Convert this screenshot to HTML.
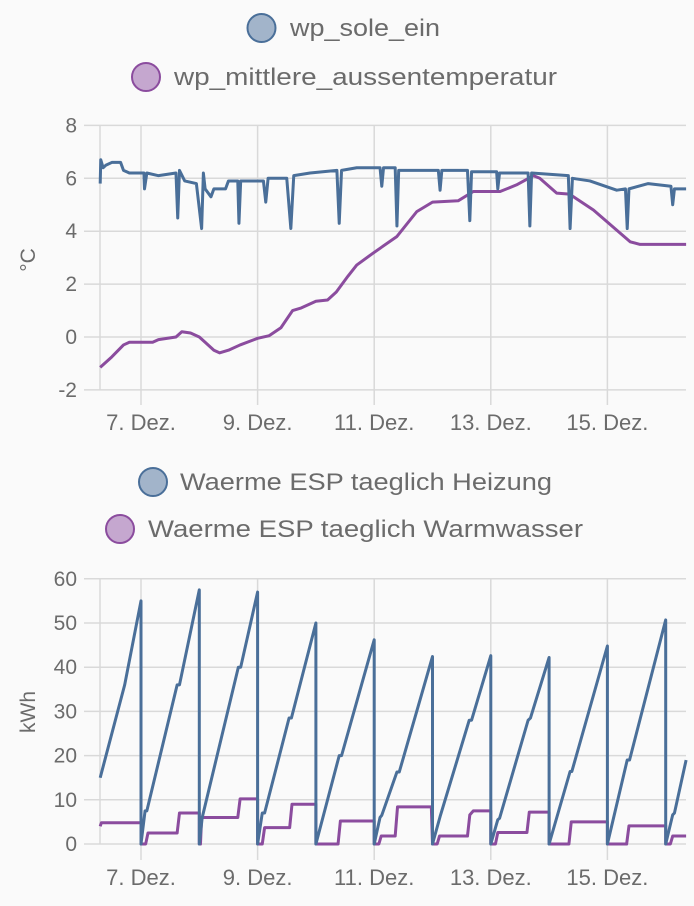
<!DOCTYPE html>
<html><head><meta charset="utf-8"><style>
body{margin:0;background:#fafafa;}
svg{display:block;font-family:"Liberation Sans",sans-serif;}
</style></head><body>
<svg id="c" width="694" height="906"></svg>
<script>
// Top chart data
const soleT=[6.30,6.31,6.35,6.4,6.5,6.65,6.7,6.8,7.05,7.06,7.1,7.3,7.6,7.63,7.66,7.75,7.95,8.04,8.07,8.1,8.2,8.25,8.45,8.5,8.66,8.68,8.71,9.1,9.14,9.18,9.5,9.57,9.62,9.9,10.36,10.40,10.44,10.7,11.1,11.13,11.16,11.36,11.39,11.42,12.1,12.13,12.16,12.6,12.64,12.67,13.1,13.12,13.15,13.64,13.67,13.7,14.33,14.36,14.4,14.7,15.16,15.31,15.34,15.37,15.7,16.09,16.12,16.15,16.35];
const soleV=[5.8,6.7,6.4,6.5,6.6,6.6,6.3,6.2,6.2,5.6,6.2,6.1,6.2,4.5,6.3,5.9,5.8,4.1,6.2,5.6,5.3,5.6,5.6,5.9,5.9,4.3,5.9,5.9,5.1,6.0,6.0,4.1,6.1,6.2,6.3,4.3,6.3,6.4,6.4,5.7,6.4,6.4,4.2,6.3,6.3,5.55,6.3,6.3,4.4,6.25,6.25,5.6,6.2,6.2,4.2,6.2,6.1,4.1,6.0,5.9,5.55,5.6,4.1,5.6,5.8,5.7,5.0,5.6,5.6];
const outT=[6.30,6.5,6.7,6.8,7.2,7.3,7.6,7.7,7.85,8.0,8.1,8.25,8.35,8.5,8.7,9.0,9.2,9.4,9.6,9.75,10.0,10.2,10.35,10.55,10.7,10.98,11.39,11.73,12.0,12.44,12.7,13.16,13.44,13.73,13.84,14.13,14.35,14.76,15.39,15.56,16.35];
const outV=[-1.15,-0.75,-0.3,-0.2,-0.2,-0.1,0.0,0.2,0.15,0.0,-0.2,-0.5,-0.6,-0.5,-0.3,-0.05,0.05,0.35,1.0,1.1,1.35,1.4,1.7,2.3,2.72,3.17,3.8,4.74,5.1,5.15,5.5,5.5,5.75,6.1,6.0,5.44,5.4,4.8,3.6,3.5,3.5];
const topTicks=[-2,0,2,4,6,8];
// Bottom chart data
const heizT=[6.30,6.72,7.0,7.0,7.07,7.1,7.62,7.66,8.0,8.0,8.05,8.67,8.71,9.0,9.0,9.08,9.12,9.54,9.58,10.0,10.0,10.40,10.44,11.0,11.0,11.1,11.13,11.39,11.43,12.0,12.0,12.13,12.63,12.67,13.0,13.0,13.12,13.15,13.64,13.68,14.0,14.0,14.36,14.39,15.0,15.0,15.34,15.38,16.0,16.0,16.12,16.15,16.35];
const heizV=[15,36,55,0,7.5,7.5,36,36,57.5,0,6,40,40,57,0,7,7,28.5,28.5,50,0,20,20,46.2,0,6,6.5,16.3,16.3,42.4,0,6.2,28,28,42.6,0,5.5,5.8,28,28.5,42.2,0,16.4,16.4,44.8,0,19,19,50.7,0,6.6,7,19];
const wwT=[6.30,6.32,7.0,7.0,7.08,7.12,7.62,7.66,8.0,8.0,8.02,8.04,8.66,8.7,9.0,9.0,9.08,9.12,9.55,9.59,10.0,10.0,10.38,10.42,11.0,11.0,11.08,11.12,11.36,11.4,11.98,12.0,12.08,12.12,12.6,12.64,12.7,13.0,13.0,13.08,13.12,13.62,13.66,14.0,14.0,14.34,14.38,15.0,15.0,15.33,15.37,16.0,16.0,16.08,16.12,16.35];
const wwV=[4,4.8,4.8,0,0,2.5,2.5,7,7,0,0,6,6,10.2,10.2,0,0,3.7,3.7,9,9,0,0,5.2,5.2,0,0,1.8,1.8,8.4,8.4,0,0,1.8,1.8,6.6,7.5,7.5,0,0,2.6,2.6,7.2,7.2,0,0,5.0,5.0,0,0,4.1,4.1,0,0,1.8,1.8];
const botTicks=[0,10,20,30,40,50,60];
const dayTicks=[7,9,11,13,15];
const dayLabels=["7. Dez.","9. Dez.","11. Dez.","13. Dez.","15. Dez."];

const svg=document.getElementById('c');
const NS='http://www.w3.org/2000/svg';
const X=t=>141+(t-7)*58.3;
const yTop=v=>337-v*26.45;
const yBot=v=>844-v*4.42;
function mk(tag,attrs,parent){const e=document.createElementNS(NS,tag);for(const k in attrs)e.setAttribute(k,attrs[k]);(parent||svg).appendChild(e);return e;}

function legend(cx,cy,fill,stroke,label,tx,tw,name){
  const g=mk('g',{});
  
  
  mk('circle',{cx:cx,cy:cy,r:14,fill:fill,stroke:stroke,'stroke-width':2},g);
  const t=mk('text',{x:tx,y:cy+8,'font-size':24,fill:'#6b6b6b',textLength:tw,lengthAdjust:'spacingAndGlyphs'},g);t.textContent=label;
}
const BLUE='#4a6f99',PURPLE='#8b4c9e';

function chart(yf,ticks,top,bottom,vTop,vBot,unit,unitY,prefix){
  const g=mk('g',{});
  
  
  ticks.forEach(v=>{
    const y=yf(v);
    const l=mk('line',{x1:84,x2:686,y1:y,y2:y,stroke:'#d9d9d9','stroke-width':1.5},g);
    
    
    const t=mk('text',{x:77,y:y+7,'font-size':21,fill:'#6b6b6b','text-anchor':'end'},g);
    
    
    t.textContent=v;
  });
  mk('line',{x1:100,x2:100,y1:top,y2:bottom,stroke:'#d9d9d9','stroke-width':1.5},g);
  dayTicks.forEach((d,i)=>{
    const x=X(d);
    mk('line',{x1:x,x2:x,y1:vTop,y2:vBot,stroke:'#d9d9d9','stroke-width':1.5},g);
    const t=mk('text',{x:x,y:vBot+25,'font-size':22,fill:'#6b6b6b','text-anchor':'middle'},g);
    
    
    t.textContent=dayLabels[i];
  });
  const u=mk('text',{x:0,y:0,'font-size':21,fill:'#6b6b6b','text-anchor':'middle',transform:`translate(35,${unitY}) rotate(-90)`},g);
  
  
  u.textContent=unit;
}
function line(ts,vs,yf,color,name){
  const p=mk('polyline',{points:ts.map((t,i)=>X(t)+','+yf(vs[i])).join(' '),fill:'none',stroke:color,'stroke-width':3,'stroke-linejoin':'round'});
  
  
}

legend(261.5,28,'#a2b4ca',BLUE,'wp_sole_ein',290,150,'legend-wp-sole-ein');
legend(146,77,'#c5a7cf',PURPLE,'wp_mittlere_aussentemperatur',174,383,'legend-wp-mittlere-aussentemperatur');
chart(yTop,topTicks,125,390,125,405,'°C',260,'top');
line(outT,outV,yTop,PURPLE,'line-mittlere-aussentemperatur');
line(soleT,soleV,yTop,BLUE,'line-sole-ein');

legend(153,482,'#a2b4ca',BLUE,'Waerme ESP taeglich Heizung',180,372,'legend-heizung');
legend(120,529,'#c5a7cf',PURPLE,'Waerme ESP taeglich Warmwasser',148,435,'legend-warmwasser');
chart(yBot,botTicks,579,844,579,860,'kWh',712,'bottom');
line(wwT,wwV,yBot,PURPLE,'line-warmwasser');
line(heizT,heizV,yBot,BLUE,'line-heizung');
</script>
</body></html>
